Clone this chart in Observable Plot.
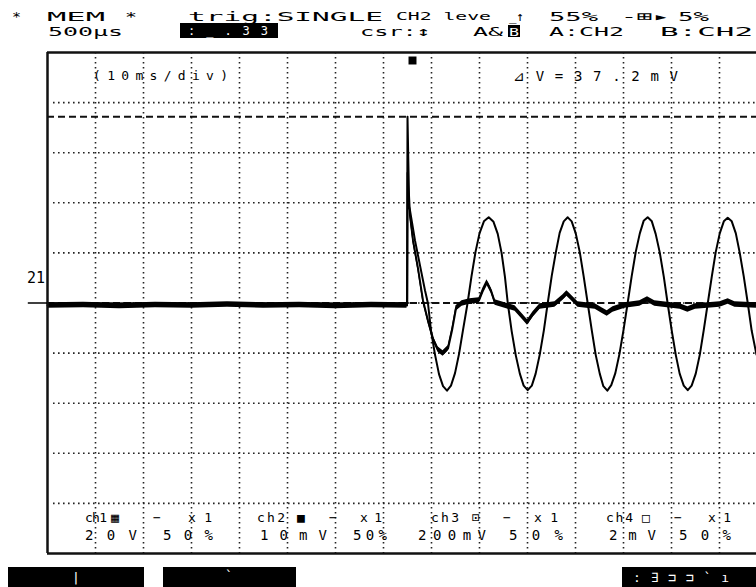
<!DOCTYPE html>
<html>
<head>
<meta charset="utf-8">
<script src="https://cdn.jsdelivr.net/npm/d3@7"></script>
<script src="https://cdn.jsdelivr.net/npm/@observablehq/plot@0.6"></script>
<style>
  html, body { margin: 0; padding: 0; background: #fff; overflow: hidden; }
</style>
</head>
<body>
<div id="chart"></div>
<script>
// ---- data (time in ms from trigger, amplitude in screen divisions) ----
const gridTimes = [-65, -55, -45, -35, -25, -15, -5, 5, 15, 25, 35, 45, 55, 65];
const gridDivs = [-4, -3, -2, -1, 0, 1, 2, 3, 4];
const cursorLevels = [3.72, 0];          // cursor A / cursor B (ΔV = 37.2 mV at 10 mV/div)
const markerLevel = [0];
const triggerTime = [0];

// CH2 (damped ringing, noisy trace)
const ch2Time = [-75, -67.5, -60, -52.5, -45, -37.5, -30, -22.5, -15, -7.5, -0.1,
  0, 0.17, 0.31, 0.52, 1.15, 2.19, 3.23, 4.27, 5.31, 6.35,
  7.40, 8.44, 9.27, 10.10, 11.35, 13.0, 14.9, 15.73, 16.56, 17.4,
  18.23, 20.3, 22.4, 23.9, 25.0, 26.15, 27.6, 30.7, 32.4, 33.2,
  34.06, 35.5, 39.1, 40.5, 41.6, 42.8, 45.3, 48.4, 50.0, 51.5,
  56.8, 58.4, 60.0, 65.1, 66.8, 68.2, 72.7];
const ch2Div = [-0.05, -0.04, -0.06, -0.04, -0.05, -0.03, -0.05, -0.04, -0.06, -0.04, -0.05,
  3.72, 2.84, 2.15, 1.75, 1.25, 0.69, 0.05, -0.35, -0.71, -0.93,
  -1.01, -0.91, -0.55, -0.11, -0.01, 0.03, 0.05, 0.25, 0.41, 0.25,
  0.01, -0.05, -0.11, -0.27, -0.39, -0.23, -0.07, -0.03, 0.11, 0.19,
  0.11, -0.03, -0.07, -0.15, -0.21, -0.13, -0.05, -0.01, 0.07, -0.01,
  -0.07, -0.13, -0.07, -0.03, 0.03, -0.03, -0.05];

// second trace (60 Hz oscillation, clean thin trace)
const refTime = [-75, -37.5, -0.05, 0.02, 0.25, 0.52, 1.56, 2.6, 3.65, 4.27,
  4.90, 5.73, 6.56, 7.40, 8.23, 9.06, 9.90, 10.73, 11.56, 12.50,
  13.33, 14.17, 15.00, 15.92, 16.92, 17.92, 18.80, 19.60, 20.30, 20.90,
  21.70, 22.55, 23.40, 24.20, 25.04, 25.90, 26.70, 27.55, 28.40, 29.20,
  30.05, 30.90, 31.70, 32.55, 33.38, 34.20, 35.05, 35.90, 36.70, 37.55,
  38.40, 39.20, 40.05, 40.80, 41.63, 42.45, 43.30, 44.15, 45.00, 45.85,
  46.70, 47.55, 48.40, 49.20, 50.04, 50.90, 51.70, 52.55, 53.40, 54.20,
  55.05, 55.90, 56.70, 57.55, 58.38, 59.20, 60.05, 60.90, 61.70, 62.55,
  63.40, 64.20, 65.05, 65.90, 66.71, 67.55, 68.40, 69.20, 70.05, 70.90,
  71.70, 72.70];
const refDiv = [-0.01, -0.01, -0.01, 2.6, 1.95, 1.85, 1.25, 0.75, 0.25, -0.01,
  -0.55, -1.03, -1.42, -1.66, -1.75, -1.65, -1.40, -1.02, -0.54, -0.01,
  0.53, 1.02, 1.39, 1.63, 1.71, 1.62, 1.38, 1.00, 0.52, -0.01,
  -0.56, -1.04, -1.41, -1.65, -1.74, -1.65, -1.41, -1.03, -0.55, -0.01,
  0.54, 1.01, 1.40, 1.63, 1.71, 1.63, 1.39, 1.01, 0.53, -0.01,
  -0.55, -1.03, -1.41, -1.66, -1.75, -1.64, -1.40, -1.02, -0.54, -0.01,
  0.53, 1.02, 1.39, 1.64, 1.71, 1.63, 1.38, 1.01, 0.52, -0.01,
  -0.55, -1.04, -1.41, -1.65, -1.74, -1.65, -1.41, -1.03, -0.55, -0.01,
  0.53, 1.01, 1.39, 1.63, 1.70, 1.63, 1.39, 1.01, 0.53, -0.01,
  -0.55, -1.03];

// ---- screen texts ----
const headerRow1 = ["*", "MEM", "*", "trig:SINGLE", "CH2 leve", "_↑", "55%", "-⊞▸", "5%"];
const headerRow2 = ["500µs", "csr:↕", "A&", "A:CH2", "B:CH2"];
const chanRowA = ["ch1", "▦", "−", "x1", "ch2", "■", "−", "x1", "ch3", "⊡", "−", "x1", "ch4", "□", "−", "x1"];
const chanRowB = ["20V", "50%", "10mV", "50%", "200mV", "50%", "2mV", "50%"];

// ---- build tables ----
const ch2 = ch2Time.map((t, i) => ({t, v: ch2Div[i]}));
const ref = refTime.map((t, i) => ({t, v: refDiv[i]}));
const noise = 0.055;
const xDomain = [-75, 72.708];
const ink = "#111";

const chart = Plot.plot({
  width: 756,
  height: 587,
  marginLeft: 47,
  marginRight: 0,
  marginTop: 52,
  marginBottom: 34,
  x: {domain: xDomain, axis: null},
  y: {domain: [-5, 5], axis: null},
  style: {background: "white"},
  marks: [
    Plot.ruleX(gridTimes, {stroke: "#222", strokeWidth: 1.6, strokeDasharray: "1.6,3.4"}),
    Plot.ruleY(gridDivs, {stroke: "#222", strokeWidth: 1.6, strokeDasharray: "1.6,3.4", dx: 6}),
    Plot.ruleY(cursorLevels, {stroke: ink, strokeWidth: 2, strokeDasharray: "7,4"}),
    Plot.areaY(ch2, {x: "t", y1: d => d.v - noise, y2: d => d.v + noise, fill: "black"}),
    Plot.line(ch2, {x: "t", y: "v", stroke: "black", strokeWidth: 2}),
    Plot.line(ref, {x: "t", y: "v", stroke: "black", strokeWidth: 2}),
    Plot.ruleY([-5, 5], {stroke: ink, strokeWidth: 2.5}),
    Plot.ruleX([xDomain[0]], {stroke: ink, strokeWidth: 2.5}),
    Plot.ruleY(markerLevel, {x1: xDomain[0] - 4, x2: xDomain[0], stroke: "black", strokeWidth: 1.5}),
    Plot.dot(triggerTime, {x: d => d, frameAnchor: "top", dx: 5, dy: 8, symbol: "square", r: 4.5, fill: "black"})
  ]
});
document.getElementById("chart").appendChild(chart);

// ---- overlay texts (screen annotations) ----
const svg = d3.select(chart);
const g = svg.append("g").attr("class", "screen-text").attr("text-anchor", "start");
const FONT = "'DejaVu Sans Mono', 'Liberation Mono', monospace";
function txt(s, x, y, w, size, fill = "#000", adjust = "spacingAndGlyphs") {
  const t = g.append("text")
    .attr("x", x).attr("y", y)
    .attr("text-anchor", "start")
    .style("text-anchor", "start")
    .style("font-family", FONT)
    .style("font-size", size + "px")
    .attr("fill", fill)
    .text(s);
  if (w) t.attr("textLength", w).attr("lengthAdjust", adjust);
  return t;
}
function box(x, y, w, h) {
  g.append("rect").attr("x", x).attr("y", y).attr("width", w).attr("height", h).attr("fill", "#000");
}

// header row 1
const r1x = [12, 47, 125, 188, 396, 509, 549, 621, 678];
const r1w = [9, 58, 12, 195, 95, 15, 49, 48, 31];
headerRow1.forEach((s, i) => txt(s, r1x[i], i === 4 ? 20 : 20.5, r1w[i], i === 4 ? 11 : 13));
// header row 2
const r2x = [48, 360, 473, 549, 660];
const r2w = [75, 71, 30, 75, 93];
headerRow2.forEach((s, i) => txt(s, r2x[i], 36, r2w[i], 13));
box(180, 23, 98, 15);
txt(":_.33", 188, 35, 80, 12, "#fff", "spacing");
box(508, 25, 12, 12);
txt("B", 509, 35.5, 10, 11, "#fff");

// in-frame labels
txt("(10ms/div)", 93, 80, 135, 13, "#000", "spacing");
txt("⊿V=37.2mV", 513, 81, 165, 14, "#000", "spacing");
txt("21", 27, 283, 18, 15);

// channel rows
const aX = [85, 111, 153, 188, 257, 297, 329, 360, 431, 472, 503, 534, 606, 642, 674, 708];
const aW = [22, 11, 14, 24, 28, 14, 12, 22, 28, 14, 11, 24, 27, 13, 12, 23];
chanRowA.forEach((s, i) => txt(s, aX[i], 522, aW[i], 13, "#000", "spacing"));
const bX = [85, 163, 260, 353, 418, 509, 609, 679];
const bW = [52, 50, 67, 34, 68, 54, 47, 52];
chanRowB.forEach((s, i) => txt(s, bX[i], 540, bW[i], 14, "#000", "spacing"));

// footer soft-key bars
box(8, 567, 136, 20);
box(163, 567, 133, 20);
box(622, 567, 134, 20);
txt("|", 72, 582, null, 13, "#fff");
txt("`", 225, 580, null, 13, "#fff");
txt(":∃⊐⊐`ı", 633, 582, 96, 13, "#fff", "spacing");
</script>
</body>
</html>
